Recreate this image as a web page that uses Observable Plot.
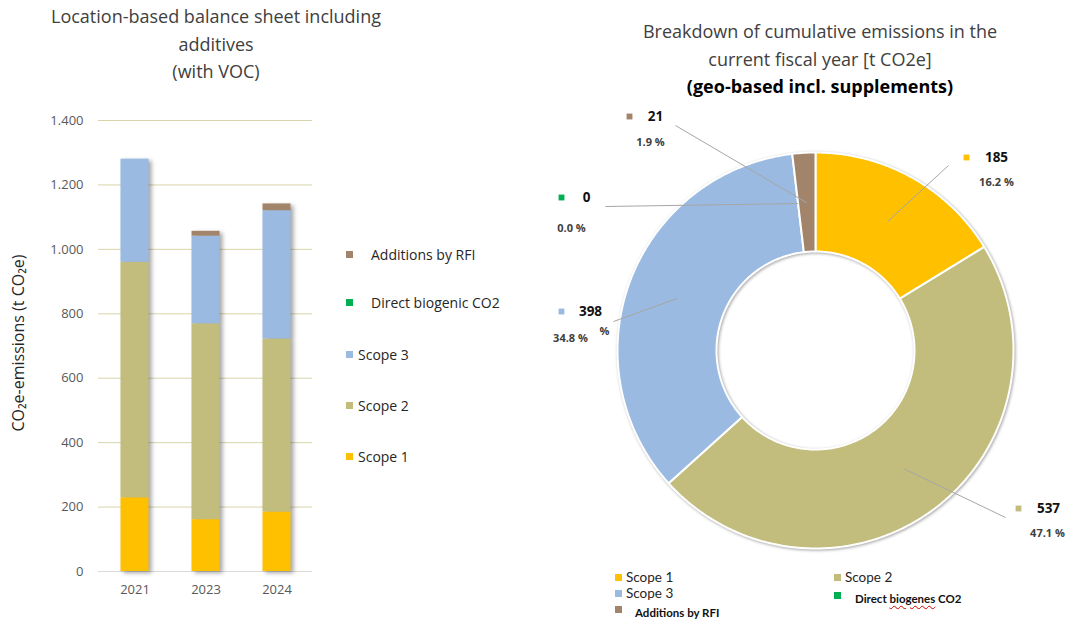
<!DOCTYPE html>
<html><head><meta charset="utf-8">
<script src="https://cdn.jsdelivr.net/npm/d3@7"></script>
<script src="https://cdn.jsdelivr.net/npm/@observablehq/plot@0.6"></script>
<style>
body{margin:0;width:1069px;height:622px;position:relative;background:#fff;font-family:"Open Sans",sans-serif;overflow:hidden}
.abs{position:absolute}
.title{position:absolute;text-align:center;font-size:18px;line-height:27.5px;color:#404040;white-space:nowrap}
.lg{position:absolute;display:flex;align-items:center;white-space:nowrap;color:#262626}
.sw{display:inline-block}
svg{position:absolute;top:0}
</style></head><body>
<script>
// ---------- data ----------
const years = ["2021", "2023", "2024"];
const series = ["Scope 1", "Scope 2", "Scope 3", "Direct biogenic CO2", "Additions by RFI"];
const colors = ["#FFC000", "#C2BD7D", "#9ABAE1", "#00B050", "#A1846A"];
const scope1 = [229, 161, 185];
const scope2 = [731, 608, 537];
const scope3 = [320, 272, 398];
const biogenic = [0, 0, 0];
const rfi = [0, 15, 21];
const yTicks = [0, 200, 400, 600, 800, 1000, 1200, 1400];
const yLabel = "CO₂e-emissions (t CO₂e)";
const leftLegendOrder = ["Additions by RFI", "Direct biogenic CO2", "Scope 3", "Scope 2", "Scope 1"];

const donutSeries = ["Scope 1", "Scope 2", "Scope 3", "Direct biogenic CO2", "Additions by RFI"];
const donutValues = [185.4, 537.2, 397.6, 0, 21.4];
const donutLegendLabels = ["Scope 1", "Scope 2", "Scope 3", "Direct biogenes CO2", "Additions by RFI"];

const leftTitle = ["Location-based balance sheet including", "additives", "(with VOC)"];
const rightTitle = ["Breakdown of cumulative emissions in the", "current fiscal year [t CO2e]", "(geo-based incl. supplements)"];

// ---------- layout (not data) ----------
// donut label placement, px offsets from donut centre (y up)
const labelLayout = [
  {sq: [151, 193], val: [181, 193], pct: [181, 168], lead: [133, 185]},
  {sq: [203, -158], val: [233, -158], pct: [232, -183], lead: [190, -167]},
  {sq: [-254, 39], val: [-225, 39], pct: [-245, 12], lead: [-202, 29]},
  {sq: [-254, 153], val: [-229, 153], pct: [-244, 122], lead: [-210, 144]},
  {sq: [-186, 234], val: [-160, 234], pct: [-165, 208], lead: [-140, 225]}
];
const R0 = 99, R1 = 198, RL = 148;

const colorOf = Object.fromEntries(series.map((s, i) => [s, colors[i]]));

// ---------- left: stacked bars ----------
const seriesValues = [scope1, scope2, scope3, biogenic, rfi];
const barData = years.flatMap((y, i) => series.map((s, k) => ({year: y, series: s, value: seriesValues[k][i]})));
const deFmt = d3.formatLocale({decimal: ",", thousands: ".", grouping: [3], currency: ["", "€"]}).format(",");

const left = Plot.plot({
  width: 540, height: 622,
  marginLeft: 98, marginRight: 228, marginTop: 120, marginBottom: 51,
  style: {fontFamily: "'Open Sans', sans-serif", fontSize: "13px", color: "#595959", background: "transparent", overflow: "visible"},
  x: {domain: years, padding: 0, tickSize: 0, tickPadding: 13, label: null},
  y: {domain: [0, 1400], ticks: yTicks, tickFormat: deFmt, tickSize: 0, tickPadding: 15, label: null},
  color: {domain: series, range: colors},
  marks: [
    Plot.ruleY(yTicks.filter(d => d > 0), {stroke: "#d8d5ab", strokeWidth: 1}),
    Plot.ruleY([0], {stroke: "#d9d9d9"}),
    Plot.barY(barData, {x: "year", y: "value", fill: "series", order: series, insetLeft: 21.5, insetRight: 21.5}),
    Plot.text([yLabel], {text: d => d, frameAnchor: "left", textAnchor: "middle", rotate: -90, dx: -80, dy: -3, fill: "#262626", fontSize: 16})
  ]
});
left.style.left = "0px";
document.body.appendChild(left);
const barG = left.querySelector('g[aria-label="bar"]');
if (barG) barG.style.filter = "drop-shadow(3px 2px 2px rgba(0,0,0,0.35))";

// ---------- right: donut ----------
const total = d3.sum(donutValues);
const pie = d3.pie().sort(null).value(d => d)(donutValues);
const ringPts = [];
pie.forEach((p, i) => {
  if (p.value <= 0) return;
  const n = Math.max(4, Math.ceil((p.endAngle - p.startAngle) * 80));
  for (let j = 0; j <= n; j++) {
    const a = p.startAngle + (p.endAngle - p.startAngle) * j / n;
    ringPts.push({key: donutSeries[i], x: R1 * Math.sin(a), y: R1 * Math.cos(a)});
  }
  for (let j = n; j >= 0; j--) {
    const a = p.startAngle + (p.endAngle - p.startAngle) * j / n;
    ringPts.push({key: donutSeries[i], x: R0 * Math.sin(a), y: R0 * Math.cos(a)});
  }
});
const labels = pie.map((p, i) => {
  const mid = (p.startAngle + p.endAngle) / 2;
  const L = labelLayout[i];
  return {
    key: donutSeries[i],
    valStr: d3.format(".0f")(p.value),
    pctStr: d3.format(".1f")(p.value / total * 100) + " %",
    mx: RL * Math.sin(mid), my: RL * Math.cos(mid),
    lx: L.lead[0], ly: L.lead[1],
    sx: L.sq[0], sy: L.sq[1],
    vx: L.val[0], vy: L.val[1],
    px: L.pct[0], py: L.pct[1]
  };
});

const right = Plot.plot({
  width: 529, height: 622,
  marginLeft: 0, marginRight: 0, marginTop: 0, marginBottom: 0,
  style: {fontFamily: "'Open Sans', sans-serif", background: "transparent", overflow: "visible"},
  x: {domain: [-275, 254], range: [0, 529], axis: null},
  y: {domain: [-272, 350], range: [622, 0], axis: null},
  color: {domain: series, range: colors},
  marks: [
    Plot.line(ringPts, {x: "x", y: "y", z: "key", fill: "key", stroke: "white", strokeWidth: 2, curve: "linear-closed"}),
    Plot.link(labels, {x1: "mx", y1: "my", x2: "lx", y2: "ly", stroke: "#a6a6a6", strokeWidth: 1}),
    Plot.dot(labels, {x: "sx", y: "sy", symbol: "square", r: 3.3, fill: "key", stroke: "none"}),
    Plot.text(labels, {x: "vx", y: "vy", text: "valStr", fontWeight: "bold", fontSize: 13.5, fill: "#111"}),
    Plot.text(labels, {x: "px", y: "py", text: "pctStr", fontWeight: "bold", fontSize: 11, fill: "#404040"}),
    Plot.text(labels.filter(d => d.key === "Scope 3"), {x: d => d.px + 34, y: d => d.py + 7, text: () => "%", fontWeight: "bold", fontSize: 11, fill: "#404040"})
  ]
});
right.style.left = "540px";
document.body.appendChild(right);
const ringG = right.querySelector('g[aria-label="line"]');
if (ringG) ringG.style.filter = "drop-shadow(1px 1px 1.5px rgba(0,0,0,0.35))";

// ---------- titles ----------
function addTitle(lines, left, width, top, boldLast) {
  const d = document.createElement("div");
  d.className = "title";
  d.style.left = left + "px"; d.style.width = width + "px"; d.style.top = top + "px";
  lines.forEach((t, i) => {
    const s = document.createElement("div");
    s.textContent = t;
    if (boldLast && i === lines.length - 1) { s.style.fontWeight = "bold"; s.style.color = "#000"; }
    d.appendChild(s);
  });
  document.body.appendChild(d);
}
addTitle(leftTitle, 0, 432, 3, false);
addTitle(rightTitle, 620, 400, 18, true);

// ---------- left legend ----------
const leftLegendY = [254, 302, 354, 405, 456];
leftLegendOrder.forEach((s, i) => {
  const d = document.createElement("div");
  d.className = "lg";
  d.style.left = "346px"; d.style.top = (leftLegendY[i] - 10) + "px"; d.style.height = "20px";
  d.style.fontSize = "14px";
  const sw = document.createElement("span");
  sw.className = "sw";
  sw.style.cssText = `width:7px;height:7px;background:${colorOf[s]};margin-right:${i < 2 ? 18 : 5}px`;
  const t = document.createElement("span");
  t.textContent = s;
  d.appendChild(sw); d.appendChild(t);
  document.body.appendChild(d);
});

// ---------- right legend ----------
const rlPos = [
  {x: 615, y: 577, gap: 4, bold: false},
  {x: 834, y: 577, gap: 4, bold: false},
  {x: 615, y: 593, gap: 4, bold: false},
  {x: 834, y: 598, gap: 14, bold: true},
  {x: 615, y: 612, gap: 13, bold: true}
];
donutSeries.forEach((s, i) => {
  const p = rlPos[i];
  const d = document.createElement("div");
  d.className = "lg";
  d.style.left = p.x + "px"; d.style.top = (p.y - 9) + "px"; d.style.height = "18px";
  d.style.fontFamily = "Lato, sans-serif";
  d.style.fontSize = p.bold ? "11.5px" : "13.5px";
  d.style.color = p.bold ? "#111" : "#262626";
  if (p.bold) d.style.fontWeight = "bold";
  const sw = document.createElement("span");
  sw.className = "sw";
  sw.style.cssText = `width:7px;height:7px;background:${colorOf[s]};margin-right:${p.gap}px;` + (p.bold ? "margin-top:-5px" : "");
  const t = document.createElement("span");
  const lab = donutLegendLabels[i];
  if (lab.includes("biogenes")) {
    const parts = lab.split("biogenes");
    t.append(parts[0]);
    const u = document.createElement("span");
    u.textContent = "biogenes";
    u.style.cssText = "text-decoration:underline wavy #d00000;text-decoration-thickness:1px;text-underline-offset:2px";
    t.append(u);
    t.append(parts[1]);
  } else t.textContent = lab;
  d.appendChild(sw); d.appendChild(t);
  document.body.appendChild(d);
});
</script>
</body></html>
